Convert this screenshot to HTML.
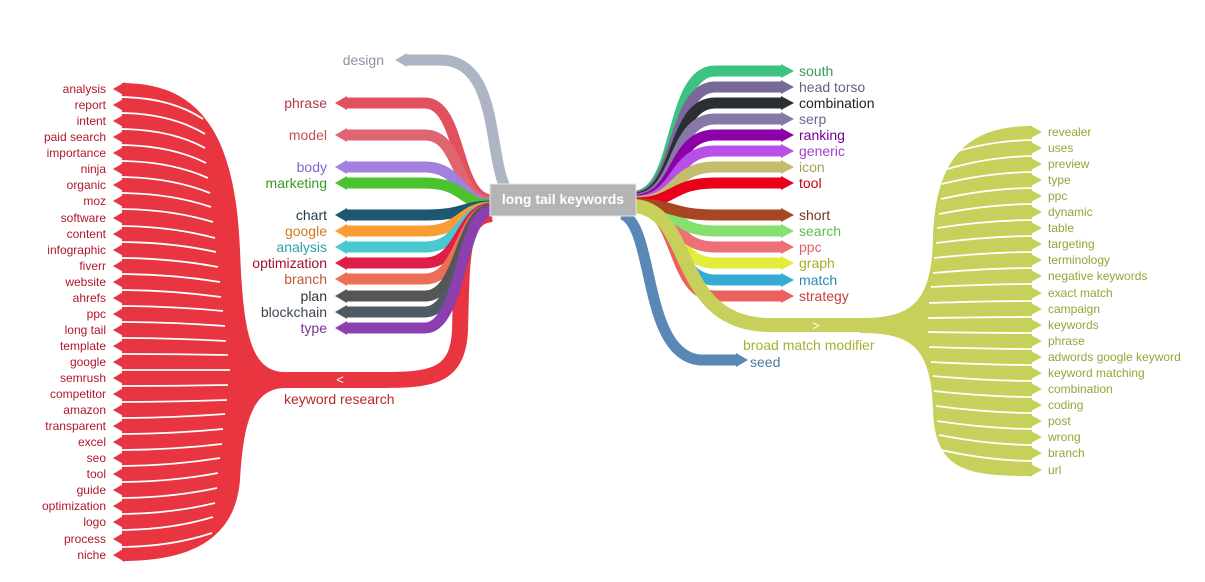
<!DOCTYPE html>
<html><head><meta charset="utf-8"><style>
html,body{margin:0;padding:0;background:#fff;}
svg{display:block;font-family:"Liberation Sans",Arial,sans-serif;}
.l{font-size:12px;fill:#b0182a;text-anchor:end}
.r{font-size:12px;fill:#9aa23a}
.m{font-size:14px}
.e{text-anchor:end}
</style></head><body>
<svg width="1205" height="582" viewBox="0 0 1205 582" xmlns="http://www.w3.org/2000/svg">
<g fill="none" stroke-width="16">
<path d="M492,214 C460,216 462,260 460,330 C458,378 430,380 380,380 L280,380" stroke="#e8353f"/>
</g>
<path d="M122,83 C190,83 235,120 240,250 C243,330 250,372 285,372 L285,388 C250,388 243,430 240,480 C235,540 190,561 122,561 Z" fill="#e8353f"/>
<g fill="#e8353f">
<polygon points="113,89 125,82 125,96"/><polygon points="113,105 125,98 125,112"/><polygon points="113,121 125,114 125,128"/><polygon points="113,137 125,130 125,144"/><polygon points="113,153 125,146 125,160"/><polygon points="113,169 125,162 125,176"/><polygon points="113,185 125,178 125,192"/><polygon points="113,201 125,194 125,208"/><polygon points="113,218 125,211 125,225"/><polygon points="113,234 125,227 125,241"/><polygon points="113,250 125,243 125,257"/><polygon points="113,266 125,259 125,273"/><polygon points="113,282 125,275 125,289"/><polygon points="113,298 125,291 125,305"/><polygon points="113,314 125,307 125,321"/><polygon points="113,330 125,323 125,337"/><polygon points="113,346 125,339 125,353"/><polygon points="113,362 125,355 125,369"/><polygon points="113,378 125,371 125,385"/><polygon points="113,394 125,387 125,401"/><polygon points="113,410 125,403 125,417"/><polygon points="113,426 125,419 125,433"/><polygon points="113,442 125,435 125,449"/><polygon points="113,458 125,451 125,465"/><polygon points="113,474 125,467 125,481"/><polygon points="113,490 125,483 125,497"/><polygon points="113,506 125,499 125,513"/><polygon points="113,522 125,515 125,529"/><polygon points="113,539 125,532 125,546"/><polygon points="113,555 125,548 125,562"/>
</g>
<g fill="none" stroke="#fff" stroke-width="1.8">
<path d="M118,97 Q170,97 203,119"/><path d="M118,113 Q170,113 205,134"/><path d="M118,129 Q170,129 205,148"/><path d="M118,145 Q170,145 206,163"/><path d="M118,161 Q170,161 208,178"/><path d="M118,177 Q170,177 210,193"/><path d="M118,193 Q170,193 211,207"/><path d="M118,209 Q170,209 213,222"/><path d="M118,226 Q170,226 215,238"/><path d="M118,242 Q170,242 216,252"/><path d="M118,258 Q170,258 218,267"/><path d="M118,274 Q170,274 220,282"/><path d="M118,290 Q170,290 221,297"/><path d="M118,306 Q170,306 223,311"/><path d="M118,322 Q170,322 225,326"/><path d="M118,338 Q170,338 226,341"/><path d="M118,354 Q170,354 228,355"/><path d="M118,370 Q170,370 230,370"/><path d="M118,386 Q170,386 228,385"/><path d="M118,402 Q170,402 227,400"/><path d="M118,418 Q170,418 225,414"/><path d="M118,434 Q170,434 223,429"/><path d="M118,450 Q170,450 222,444"/><path d="M118,466 Q170,466 220,458"/><path d="M118,482 Q170,482 218,473"/><path d="M118,498 Q170,498 217,488"/><path d="M118,514 Q170,514 215,503"/><path d="M118,530 Q170,530 213,517"/><path d="M118,547 Q170,547 212,533"/>
</g>
<g fill="none" stroke-width="11">
<path d="M505,187 C488,150 498,60 440,60 L405,60" stroke="#adb5c4"/>
<path d="M492,200 C455,200 462,103 425,103 L345,103" stroke="#e0505e"/>
<path d="M492,202 C455,202 462,135 425,135 L345,135" stroke="#df6670"/>
<path d="M492,204 C460,204 462,167 425,167 L345,167" stroke="#a180e0"/>
<path d="M492,205 C462,205 465,183 425,183 L345,183" stroke="#4cc22f"/>
<path d="M492,206 C462,206 465,215 425,215 L345,215" stroke="#1c5873"/>
<path d="M492,207 C460,207 462,231 425,231 L345,231" stroke="#f99c33"/>
<path d="M492,208 C460,208 462,247 425,247 L345,247" stroke="#4ac8cf"/>
<path d="M492,208 C460,208 462,263 425,263 L345,263" stroke="#dd1f48"/>
<path d="M492,209 C460,209 462,279 425,279 L345,279" stroke="#ec6e56"/>
<path d="M492,209 C460,209 462,296 425,296 L345,296" stroke="#555555"/>
<path d="M492,210 C460,210 462,312 425,312 L345,312" stroke="#4f5a62"/>
<path d="M492,211 C460,211 462,328 425,328 L345,328" stroke="#8c40b0"/>
</g>
<polygon points="395,60 407,53 407,67" fill="#adb5c4"/>
<polygon points="335,103 347,96 347,110" fill="#e0505e"/>
<polygon points="335,135 347,128 347,142" fill="#df6670"/>
<polygon points="335,167 347,160 347,174" fill="#a180e0"/>
<polygon points="335,183 347,176 347,190" fill="#4cc22f"/>
<polygon points="335,215 347,208 347,222" fill="#1c5873"/>
<polygon points="335,231 347,224 347,238" fill="#f99c33"/>
<polygon points="335,247 347,240 347,254" fill="#4ac8cf"/>
<polygon points="335,263 347,256 347,270" fill="#dd1f48"/>
<polygon points="335,279 347,272 347,286" fill="#ec6e56"/>
<polygon points="335,296 347,289 347,303" fill="#555555"/>
<polygon points="335,312 347,305 347,319" fill="#4f5a62"/>
<polygon points="335,328 347,321 347,335" fill="#8c40b0"/>

<!-- right side -->
<g fill="none" stroke-width="11">
<path d="M622,214 C655,225 642,355 700,360 L737,360" stroke="#5a88b6"/>
<path d="M634,196 C680,196 668,71 715,71 L782,71" stroke="#3cc381"/>
<path d="M634,197 C680,197 670,87 715,87 L782,87" stroke="#7a6899"/>
<path d="M634,198 C680,198 670,103 715,103 L782,103" stroke="#2b2f33"/>
<path d="M634,199 C680,199 670,119 715,119 L782,119" stroke="#8878a8"/>
<path d="M634,200 C680,200 670,135 715,135 L782,135" stroke="#8c00a8"/>
<path d="M634,201 C680,201 670,151 715,151 L782,151" stroke="#b84fe6"/>
<path d="M634,202 C680,202 670,167 715,167 L782,167" stroke="#c4bd6e"/>
<path d="M634,203 C675,203 670,183 715,183 L782,183" stroke="#ea0019"/>
<path d="M634,205 C680,205 670,296 715,296 L782,296" stroke="#ec605d"/>
<path d="M634,205 C680,205 670,280 715,280 L782,280" stroke="#35abd4"/>
<path d="M634,205 C680,205 670,263 715,263 L782,263" stroke="#e3ec3b"/>
<path d="M634,205 C680,205 670,247 715,247 L782,247" stroke="#ee7077"/>
<path d="M634,205 C680,205 670,231 715,231 L782,231" stroke="#86e06e"/>
<path d="M634,204 C675,204 670,215 715,215 L782,215" stroke="#a84623"/>
<path d="M634,206 C695,210 672,325 770,325 L870,325" stroke="#c6d05a" stroke-width="14"/>
</g>
<polygon points="748,360 736,353 736,367" fill="#5a88b6"/>
<polygon points="794,71 781,64 781,78" fill="#3cc381"/>
<polygon points="794,87 781,80 781,94" fill="#7a6899"/>
<polygon points="794,103 781,96 781,110" fill="#2b2f33"/>
<polygon points="794,119 781,112 781,126" fill="#8878a8"/>
<polygon points="794,135 781,128 781,142" fill="#8c00a8"/>
<polygon points="794,151 781,144 781,158" fill="#b84fe6"/>
<polygon points="794,167 781,160 781,174" fill="#c4bd6e"/>
<polygon points="794,183 781,176 781,190" fill="#ea0019"/>
<polygon points="794,215 781,208 781,222" fill="#a84623"/>
<polygon points="794,231 781,224 781,238" fill="#86e06e"/>
<polygon points="794,247 781,240 781,254" fill="#ee7077"/>
<polygon points="794,263 781,256 781,270" fill="#e3ec3b"/>
<polygon points="794,280 781,273 781,287" fill="#35abd4"/>
<polygon points="794,296 781,289 781,303" fill="#ec605d"/>

<path d="M1032,126 C965,126 935,160 933,240 C931,305 910,318 860,318 L860,333 C910,333 931,345 933,410 C935,470 965,476 1032,476 Z" fill="#c6d05a"/>
<g fill="#c6d05a">
<polygon points="1042,132 1029,125 1029,139"/><polygon points="1042,148 1029,141 1029,155"/><polygon points="1042,164 1029,157 1029,171"/><polygon points="1042,180 1029,173 1029,187"/><polygon points="1042,196 1029,189 1029,203"/><polygon points="1042,212 1029,205 1029,219"/><polygon points="1042,228 1029,221 1029,235"/><polygon points="1042,244 1029,237 1029,251"/><polygon points="1042,260 1029,253 1029,267"/><polygon points="1042,276 1029,269 1029,283"/><polygon points="1042,293 1029,286 1029,300"/><polygon points="1042,309 1029,302 1029,316"/><polygon points="1042,325 1029,318 1029,332"/><polygon points="1042,341 1029,334 1029,348"/><polygon points="1042,357 1029,350 1029,364"/><polygon points="1042,373 1029,366 1029,380"/><polygon points="1042,389 1029,382 1029,396"/><polygon points="1042,405 1029,398 1029,412"/><polygon points="1042,421 1029,414 1029,428"/><polygon points="1042,437 1029,430 1029,444"/><polygon points="1042,453 1029,446 1029,460"/><polygon points="1042,470 1029,463 1029,477"/>
</g>
<g fill="none" stroke="#fff" stroke-width="1.8">
<path d="M1036,140 Q990,140 945,155"/><path d="M1036,156 Q990,156 944,170"/><path d="M1036,172 Q990,172 942,184"/><path d="M1036,188 Q990,188 941,199"/><path d="M1036,204 Q990,204 939,214"/><path d="M1036,220 Q990,220 937,228"/><path d="M1036,236 Q990,236 936,243"/><path d="M1036,252 Q990,252 934,258"/><path d="M1036,268 Q990,268 933,273"/><path d="M1036,284 Q990,284 931,287"/><path d="M1036,301 Q990,301 929,303"/><path d="M1036,317 Q990,317 928,318"/><path d="M1036,333 Q990,333 928,332"/><path d="M1036,349 Q990,349 929,347"/><path d="M1036,365 Q990,365 931,362"/><path d="M1036,381 Q990,381 933,376"/><path d="M1036,397 Q990,397 934,391"/><path d="M1036,413 Q990,413 936,406"/><path d="M1036,429 Q990,429 937,421"/><path d="M1036,445 Q990,445 939,435"/><path d="M1036,461 Q990,461 941,450"/>
</g>

<!-- center box -->
<rect x="490" y="184" width="146" height="32" fill="#b4b4b4" stroke="#e6e6e6" stroke-width="1"/>
<text x="563" y="204" fill="#fff" font-size="14" font-weight="bold" text-anchor="middle">long tail keywords</text>
<text x="340" y="384" fill="#fff" font-size="13" text-anchor="middle">&lt;</text>
<text x="816" y="330" fill="#fff" font-size="13" text-anchor="middle">&gt;</text>

<!-- left leaf labels -->
<g class="l">
<text x="106" y="93">analysis</text><text x="106" y="109">report</text><text x="106" y="125">intent</text><text x="106" y="141">paid search</text><text x="106" y="157">importance</text><text x="106" y="173">ninja</text><text x="106" y="189">organic</text><text x="106" y="205">moz</text><text x="106" y="222">software</text><text x="106" y="238">content</text><text x="106" y="254">infographic</text><text x="106" y="270">fiverr</text><text x="106" y="286">website</text><text x="106" y="302">ahrefs</text><text x="106" y="318">ppc</text><text x="106" y="334">long tail</text><text x="106" y="350">template</text><text x="106" y="366">google</text><text x="106" y="382">semrush</text><text x="106" y="398">competitor</text><text x="106" y="414">amazon</text><text x="106" y="430">transparent</text><text x="106" y="446">excel</text><text x="106" y="462">seo</text><text x="106" y="478">tool</text><text x="106" y="494">guide</text><text x="106" y="510">optimization</text><text x="106" y="526">logo</text><text x="106" y="543">process</text><text x="106" y="559">niche</text>
</g>
<!-- left mid labels -->
<g class="m e">
<text x="384" y="65" fill="#8a92a0">design</text>
<text x="327" y="108" fill="#b03a4a">phrase</text>
<text x="327" y="140" fill="#c05058">model</text>
<text x="327" y="172" fill="#8565c8">body</text>
<text x="327" y="188" fill="#3a9a20">marketing</text>
<text x="327" y="220" fill="#1c3a4a">chart</text>
<text x="327" y="236" fill="#d07a20">google</text>
<text x="327" y="252" fill="#30a0a8">analysis</text>
<text x="327" y="268" fill="#a0102e">optimization</text>
<text x="327" y="284" fill="#c05838">branch</text>
<text x="327" y="301" fill="#333">plan</text>
<text x="327" y="317" fill="#3a4550">blockchain</text>
<text x="327" y="333" fill="#7a3098">type</text>
</g>
<text x="284" y="404" class="m" fill="#b52a2a">keyword research</text>

<!-- right mid labels -->
<g class="m">
<text x="799" y="76" fill="#3a9a5d">south</text>
<text x="799" y="92" fill="#6a5e84">head torso</text>
<text x="799" y="108" fill="#222">combination</text>
<text x="799" y="124" fill="#6d6690">serp</text>
<text x="799" y="140" fill="#7a0090">ranking</text>
<text x="799" y="156" fill="#a040d0">generic</text>
<text x="799" y="172" fill="#a8a060">icon</text>
<text x="799" y="188" fill="#c00010">tool</text>
<text x="799" y="220" fill="#7a3520">short</text>
<text x="799" y="236" fill="#5dbb4e">search</text>
<text x="799" y="252" fill="#dd6068">ppc</text>
<text x="799" y="268" fill="#a8b020">graph</text>
<text x="799" y="285" fill="#2a8ab0">match</text>
<text x="799" y="301" fill="#c84040">strategy</text>
<text x="743" y="350" fill="#a8b030">broad match modifier</text>
<text x="750" y="367" fill="#4a78a6">seed</text>
</g>

<!-- right leaf labels -->
<g class="r">
<text x="1048" y="136">revealer</text><text x="1048" y="152">uses</text><text x="1048" y="168">preview</text><text x="1048" y="184">type</text><text x="1048" y="200">ppc</text><text x="1048" y="216">dynamic</text><text x="1048" y="232">table</text><text x="1048" y="248">targeting</text><text x="1048" y="264">terminology</text><text x="1048" y="280">negative keywords</text><text x="1048" y="297">exact match</text><text x="1048" y="313">campaign</text><text x="1048" y="329">keywords</text><text x="1048" y="345">phrase</text><text x="1048" y="361">adwords google keyword</text><text x="1048" y="377">keyword matching</text><text x="1048" y="393">combination</text><text x="1048" y="409">coding</text><text x="1048" y="425">post</text><text x="1048" y="441">wrong</text><text x="1048" y="457">branch</text><text x="1048" y="474">url</text>
</g>
</svg>
</body></html>
